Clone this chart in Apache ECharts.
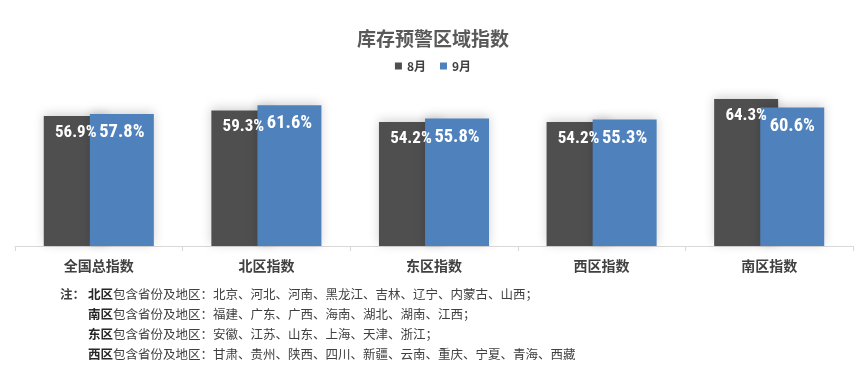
<!DOCTYPE html>
<html><head><meta charset="utf-8">
<script src="https://cdn.jsdelivr.net/npm/echarts@6/dist/echarts.min.js"></script>
<style>html,body{margin:0;padding:0;background:#fff}#c{width:866px;height:375px}</style>
</head><body><div id="c"></div>
<script>
const categories = ['全国总指数', '北区指数', '东区指数', '西区指数', '南区指数'];
const aug = [56.9, 59.3, 54.2, 54.2, 64.3];
const sep = [57.8, 61.6, 55.8, 55.3, 60.6];
const seriesNames = ['8月', '9月'];
const titleText = '库存预警区域指数';
const notes = [
  ['北区', '包含省份及地区：北京、河北、河南、黑龙江、吉林、辽宁、内蒙古、山西；'],
  ['南区', '包含省份及地区：福建、广东、广西、海南、湖北、湖南、江西；'],
  ['东区', '包含省份及地区：安徽、江苏、山东、上海、天津、浙江；'],
  ['西区', '包含省份及地区：甘肃、贵州、陕西、四川、新疆、云南、重庆、宁夏、青海、西藏']
];

const cjk = "'Noto Sans CJK SC', 'Noto Sans', sans-serif";
const narrow = "'Roboto Condensed', 'Open Sans Condensed', sans-serif";
const chart = echarts.init(document.getElementById('c'));

const graphics = [{
  type: 'text', left: 60, top: 288,
  style: { text: '注：', font: "bold 12.5px " + cjk, fill: '#404040' }
}];
notes.forEach((n, i) => {
  graphics.push({
    type: 'text', left: 88, top: 288 + i * 20,
    style: {
      text: '{b|' + n[0] + '}{n|' + n[1] + '}',
      rich: {
        b: { fontFamily: cjk, fontWeight: 'bold', fontSize: 12.5, fill: '#262626', color: '#262626' },
        n: { fontFamily: cjk, fontSize: 12.5, fill: '#404040', color: '#404040' }
      }
    }
  });
});

chart.setOption({
  animation: false,
  title: {
    text: titleText, left: 'center', top: 24,
    textStyle: { fontFamily: cjk, fontSize: 19, fontWeight: 'bold', color: '#595959' }
  },
  legend: {
    data: seriesNames, top: 55, left: 'center',
    icon: 'rect', itemWidth: 7, itemHeight: 7, itemGap: 14,
    textStyle: { fontFamily: cjk, fontSize: 12, fontWeight: 'bold', color: '#404040' }
  },
  grid: { left: 15, right: 13, top: 86, bottom: 129, containLabel: false },
  xAxis: {
    type: 'category', data: categories,
    axisLine: { lineStyle: { color: '#d9d9d9', width: 1 } },
    axisTick: { show: true, lineStyle: { color: '#d9d9d9' }, length: 5 },
    axisLabel: { fontFamily: cjk, fontSize: 14, fontWeight: 'bold', color: '#404040', margin: 13 }
  },
  yAxis: { type: 'value', min: 0, max: 70, show: false, splitLine: { show: false } },
  graphic: graphics,
  series: [
    {
      name: seriesNames[0], type: 'bar', data: aug, barWidth: 64, barGap: '-28%',
      itemStyle: { color: '#4f4f4f', shadowBlur: 10, shadowColor: 'rgba(0,0,0,0.18)', shadowOffsetY: -2 },
      label: {
        show: true, position: 'insideTop', distance: 8,
        formatter: p => p.value.toFixed(1) + '%',
        fontFamily: narrow, fontWeight: 'bold', fontSize: 17, color: '#fff'
      }
    },
    {
      name: seriesNames[1], type: 'bar', data: sep, barWidth: 64,
      itemStyle: { color: '#4f81bd', shadowBlur: 10, shadowColor: 'rgba(0,0,0,0.18)', shadowOffsetY: -2 },
      label: {
        show: true, position: 'insideTop', distance: 9,
        formatter: p => p.value.toFixed(1) + '%',
        fontFamily: narrow, fontWeight: 'bold', fontSize: 18.5, color: '#fff'
      }
    }
  ]
});
</script>
</body></html>
